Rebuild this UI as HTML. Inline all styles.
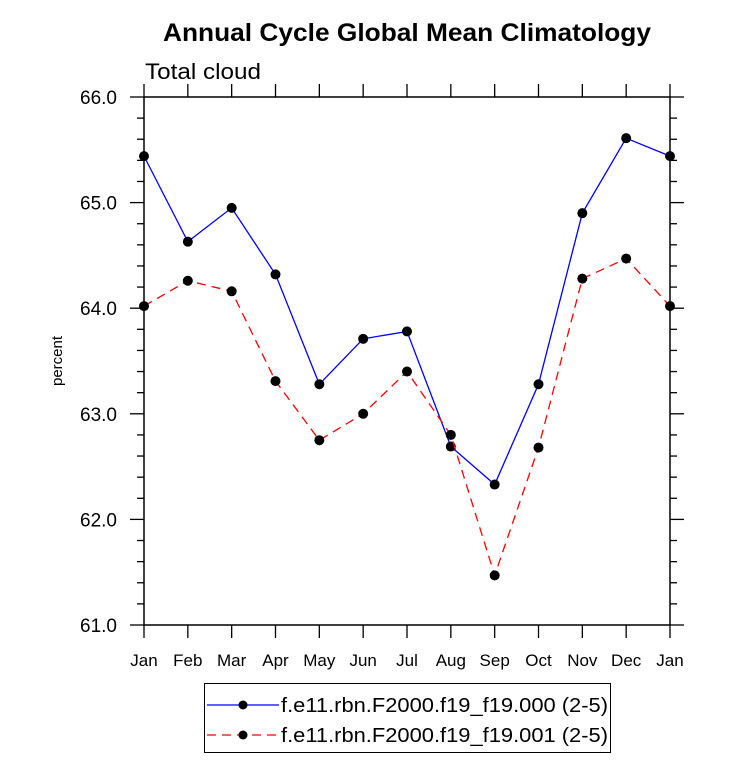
<!DOCTYPE html>
<html><head><meta charset="utf-8"><style>
body{margin:0;background:#fff;}
svg text{font-family:"Liberation Sans",Arial,sans-serif;}
</style></head><body>
<svg id="chart" width="733" height="777" xmlns="http://www.w3.org/2000/svg">
<text x="163" y="41" font-size="25" font-weight="bold" textLength="488" lengthAdjust="spacingAndGlyphs">Annual Cycle Global Mean Climatology</text>
<text x="145" y="79" font-size="22" textLength="116" lengthAdjust="spacingAndGlyphs">Total cloud</text>
<text transform="translate(62,361) rotate(-90)" text-anchor="middle" font-size="15">percent</text>
<g id="plot"></g>
<g>
<rect x="204.5" y="683.5" width="406" height="69" fill="none" stroke="#000" stroke-width="1"/>
<line x1="207" y1="705" x2="279" y2="705" stroke="#0000ff" stroke-width="1.3"/>
<circle cx="243" cy="705" r="4.5" fill="#000"/>
<text x="281" y="712" font-size="20" textLength="327" lengthAdjust="spacingAndGlyphs">f.e11.rbn.F2000.f19_f19.000 (2-5)</text>
<line x1="207" y1="735" x2="279" y2="735" stroke="#ff0000" stroke-width="1.3" stroke-dasharray="9,6"/>
<circle cx="243" cy="735" r="4.5" fill="#000"/>
<text x="281" y="742" font-size="20" textLength="327" lengthAdjust="spacingAndGlyphs">f.e11.rbn.F2000.f19_f19.001 (2-5)</text>
</g>
</svg>
<script>
const months = ["Jan","Feb","Mar","Apr","May","Jun","Jul","Aug","Sep","Oct","Nov","Dec","Jan"];
const series000 = [65.44,64.63,64.95,64.32,63.28,63.71,63.78,62.69,62.33,63.28,64.90,65.61,65.44];
const series001 = [64.02,64.26,64.16,63.31,62.75,63.00,63.40,62.80,61.47,62.68,64.28,64.47,64.02];
const yTicks = ["61.0","62.0","63.0","64.0","65.0","66.0"];
const L=144,R=670,T=97,B=625,yMin=61,yMax=66;
const ns="http://www.w3.org/2000/svg";
const g=document.getElementById('plot');
const xs=i=>L+(R-L)*i/(months.length-1);
const ys=v=>B-(v-yMin)/(yMax-yMin)*(B-T);
function mk(tag,attrs,parent){const e=document.createElementNS(ns,tag);for(const k in attrs)e.setAttribute(k,attrs[k]);(parent||g).appendChild(e);return e;}
const frame=mk('rect',{x:L,y:T,width:R-L,height:B-T,fill:'none',stroke:'#000','stroke-width':1.5});


for(let v=yMin;v<=yMax+1e-9;v+=0.2){
  const major=Math.abs(v-Math.round(v))<1e-6;const len=major?14:7;const y=ys(v);
  const t1=mk('line',{x1:L-len,x2:L,y1:y,y2:y,stroke:'#000','stroke-width':1.3});
  
  
  const t2=mk('line',{x1:R,x2:R+len,y1:y,y2:y,stroke:'#000','stroke-width':1.3});
  
  
}
yTicks.forEach(s=>{const t=mk('text',{x:117,y:ys(parseFloat(s))+7,'text-anchor':'end','font-size':19});t.textContent=s;
  
  });
months.forEach((m,i)=>{const x=xs(i);
  const a=mk('line',{x1:x,x2:x,y1:B,y2:B+13,stroke:'#000','stroke-width':1.3});
  
  
  const b=mk('line',{x1:x,x2:x,y1:T-13,y2:T,stroke:'#000','stroke-width':1.3});
  
  
  const t=mk('text',{x:x,y:B+41,'text-anchor':'middle','font-size':17});t.textContent=m;
  
  
});
function drawSeries(vals,color,dash,name){
  const p=mk('polyline',{points:vals.map((v,i)=>xs(i)+','+ys(v)).join(' '),fill:'none',stroke:color,'stroke-width':1.3,'stroke-dasharray':dash});
  
  
  vals.forEach((v,i)=>{const c=mk('circle',{cx:xs(i),cy:ys(v),r:5,fill:'#000'});
    
    });
}
drawSeries(series000,'#0000ff','none','series-000');
drawSeries(series001,'#ff0000','9,6','series-001');
</script>
</body></html>
